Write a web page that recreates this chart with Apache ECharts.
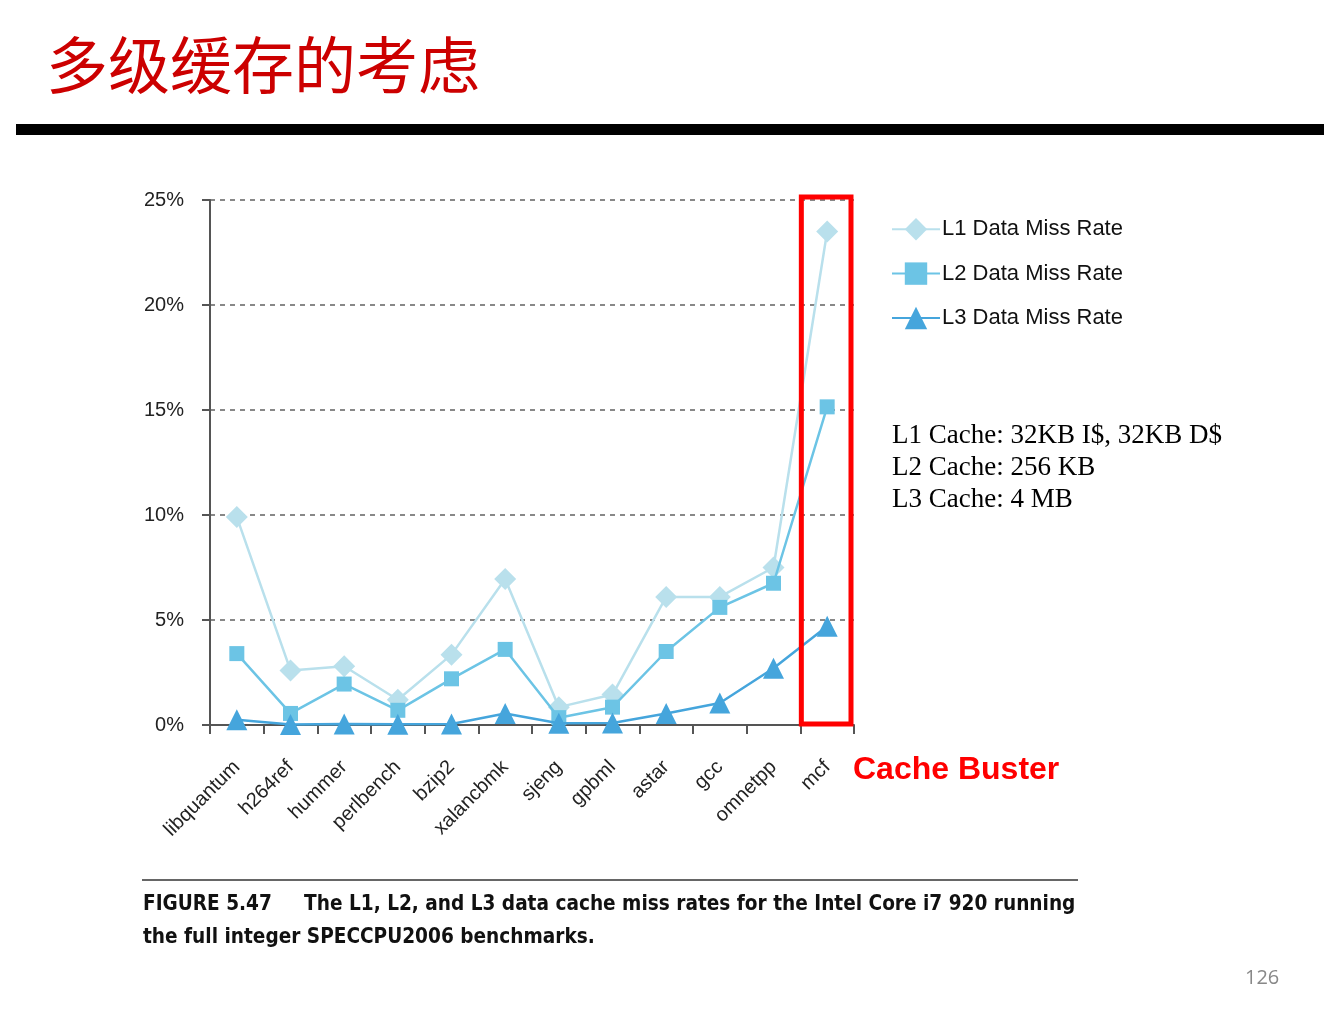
<!DOCTYPE html>
<html>
<head>
<meta charset="utf-8">
<script src="https://cdn.jsdelivr.net/npm/echarts@6/dist/echarts.min.js"></script>
<style>
html,body{margin:0;padding:0;background:#fff;}
#c{width:1330px;height:1010px;}
</style>
</head>
<body>
<div id="c"></div>
<script>
const categories = ['libquantum','h264ref','hummer','perlbench','bzip2','xalancbmk','sjeng','gpbml','astar','gcc','omnetpp','mcf'];
const l1Miss = [9.9, 2.6, 2.8, 1.2, 3.35, 6.95, 0.85, 1.45, 6.1, 6.1, 7.5, 23.5];
const l2Miss = [3.4, 0.55, 1.95, 0.7, 2.2, 3.6, 0.35, 0.85, 3.5, 5.6, 6.75, 15.15];
const l3Miss = [0.25, 0.02, 0.05, 0.03, 0.05, 0.55, 0.08, 0.1, 0.55, 1.05, 2.7, 4.7];
const seriesNames = ['L1 Data Miss Rate','L2 Data Miss Rate','L3 Data Miss Rate'];
const yTicks = [0, 5, 10, 15, 20, 25];
const highlightCategory = 'mcf';
const highlightRange = [0, 25];

const chart = echarts.init(document.getElementById('c'), null, {renderer:'canvas'});
const c1 = '#b9e0ec', c2 = '#6cc4e5', c3 = '#45a5dc';
chart.setOption({
  animation:false,
  backgroundColor:'#fff',
  grid:{left:210, right:476, top:200, bottom:285},
  legend:{
    orient:'vertical', left:886, top:213, itemGap:22, itemWidth:48, itemHeight:28,
    data:seriesNames,
    textStyle:{fontFamily:'Liberation Sans, Arial', fontSize:22, color:'#111', padding:[0,0,0,-3]}
  },
  xAxis:{
    type:'category', data:categories, boundaryGap:true,
    axisLine:{lineStyle:{color:'#555', width:2}},
    axisTick:{show:true, length:9, lineStyle:{color:'#555', width:2}},
    axisLabel:{rotate:45, fontFamily:'Liberation Sans, Arial', fontSize:20, color:'#222', margin:39}
  },
  yAxis:{
    type:'value', min:0, max:25, interval:5,
    axisLine:{show:true, lineStyle:{color:'#555', width:2}},
    axisTick:{show:true, length:8, lineStyle:{color:'#555', width:2}},
    splitLine:{show:true, lineStyle:{type:[5,5], color:'#888', width:2}},
    axisLabel:{formatter:v => yTicks.includes(v) ? v + '%' : '', fontFamily:'Liberation Sans, Arial', fontSize:20, color:'#222', margin:26}
  },
  series:[
    {name:seriesNames[0], type:'line', data:l1Miss, symbol:'diamond', symbolSize:22,
     lineStyle:{color:c1, width:2.5}, itemStyle:{color:c1}, z:2},
    {name:seriesNames[1], type:'line', data:l2Miss, symbol:'rect', symbolSize:15,
     lineStyle:{color:c2, width:2.5}, itemStyle:{color:c2}, z:3},
    {name:seriesNames[2], type:'line', data:l3Miss, symbol:'triangle', symbolSize:21,
     lineStyle:{color:c3, width:2.5}, itemStyle:{color:c3}, z:4},
    {name:'highlight', type:'custom', silent:true, z:6,
     data:[[highlightCategory, highlightRange[0], highlightRange[1]]],
     encode:{x:0, y:[1,2]},
     renderItem:function(params, api){
       const bottom = api.coord([api.value(0), api.value(1)]);
       const top = api.coord([api.value(0), api.value(2)]);
       const w = api.size([1, 0])[0];
       return {type:'rect',
         shape:{x:bottom[0]-w/2+1, y:top[1]-3, width:w-4, height:bottom[1]-top[1]+2},
         style:{fill:'none', stroke:'#ff0000', lineWidth:5}};
     }}
  ],
  graphic:[
    {type:'text', left:46, top:34, style:{text:'多级缓存的考虑', fill:'#cc0000', font:'62px "Noto Sans CJK SC"'}},
    {type:'rect', shape:{x:16, y:124, width:1308, height:11}, style:{fill:'#000'}},
    {type:'text', left:892, top:420, style:{text:'L1 Cache: 32KB I$, 32KB D$\nL2 Cache: 256 KB\nL3 Cache: 4 MB', fill:'#000', font:'27px "Liberation Serif", "Times New Roman"', lineHeight:32}},
    {type:'text', left:853, top:754, style:{text:'Cache Buster', fill:'#ff0000', font:'bold 32px "Liberation Sans", Arial'}},
    {type:'rect', shape:{x:142, y:879, width:936, height:2}, style:{fill:'#666'}},
    {type:'text', left:143, top:888, style:{text:'FIGURE 5.47     The L1, L2, and L3 data cache miss rates for the Intel Core i7 920 running\nthe full integer SPECCPU2006 benchmarks.', fill:'#111', font:'bold 20.6px "Liberation Sans Narrow", "DejaVu Sans Condensed"', lineHeight:33}},
    {type:'text', left:1245, top:968, style:{text:'126', fill:'#888', font:'20px "Open Sans", "Liberation Sans"'}}
  ]
});
</script>
</body>
</html>
